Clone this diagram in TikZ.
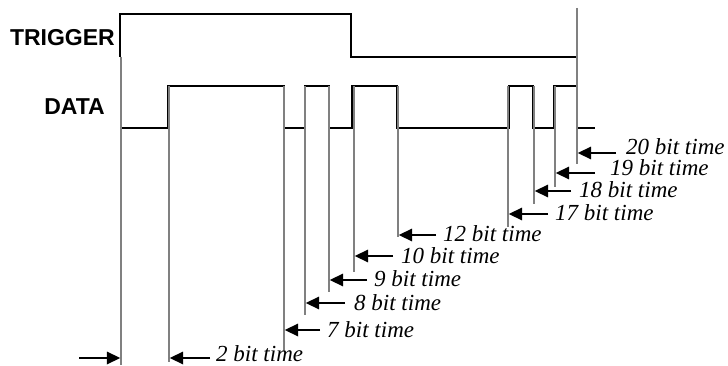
\documentclass[tikz,border=0pt]{standalone}
\usepackage{fontspec}
\setmainfont{Liberation Serif}
\newfontfamily\sansbold{Liberation Sans}
\usetikzlibrary{arrows.meta}
\tikzset{
  sig/.style={line width=1.8pt, black, line join=miter},
  guide/.style={line width=1.3pt, color=black!50},
  marker/.style={line width=1.8pt, -{Triangle[length=13.5pt,width=12.5pt]}},
  lbl/.style={font=\fontsize{23}{23}\selectfont\itshape, anchor=base west, inner sep=0pt},
  sname/.style={font=\fontsize{23}{23}\selectfont\sansbold\bfseries, inner sep=0pt}
}
\begin{document}
\begin{tikzpicture}[x=1pt,y=-1pt]
\useasboundingbox (0,0) rectangle (728,366);
% signal names
\node[sname, anchor=east] (trig) at (115,38) {TRIGGER};
\node[sname, anchor=east] (data) at (105,107) {DATA};
% trigger waveform
\draw[sig] (120,57) -- (120,14) -- (351,14) -- (351,57) -- (577,57);
% data waveform
\draw[sig] (120,128) -- (168,128) -- (168,86) -- (284,86) -- (284,128) -- (305,128)
  -- (305,86) -- (329,86) -- (329,128) -- (352,128) -- (352,86) -- (397,86)
  -- (397,128) -- (509,128) -- (509,86) -- (533,86) -- (533,128) -- (554,128)
  -- (554,86) -- (577,86) -- (577,128) -- (595,128);
% start guide
\coordinate (s0t) at (121,57);
\coordinate (s0b) at (121,365);
\draw[guide] (s0t) -- (s0b);
\coordinate (e0t) at (577,8);
\coordinate (e0b) at (577,164);
% edge guides, arrows, labels
\foreach \x/\b/\ay/\tx/\lx/\bl/\t [count=\i] in {
  169/362/358/210/216/361/2,
  284/350/330/320/327/337/7,
  305/315/303/345/354/310/8,
  329/292/280/367/374/286/9,
  354/272/256/393/401/263/10,
  398/237/235/436/443/241/12,
  508/227/214/548/555/221/17,
  534/204/191/571/579/198/18,
  555/187/173/595/610/176/19}
{
  \coordinate (g\i t) at (\x,86);
  \coordinate (g\i b) at (\x,\b);
  \draw[guide] (g\i t) -- (g\i b);
  \coordinate (a\i h) at (\x+0.7,\ay);
  \coordinate (a\i t) at (\tx,\ay);
  \draw[marker] (a\i t) -- (a\i h);
  \node[lbl] (l\i) at (\lx,\bl) {\t{} bit time};
}
\draw[guide] (e0t) -- (e0b);
\coordinate (a20h) at (577.7,153);
\coordinate (a20t) at (616,153);
\draw[marker] (a20t) -- (a20h);
\node[lbl] (l20) at (626,155) {20 bit time};
% start arrow
\coordinate (st) at (79,358);
\coordinate (sh) at (120.3,358);
\draw[marker] (st) -- (sh);
\end{tikzpicture}
\end{document}
